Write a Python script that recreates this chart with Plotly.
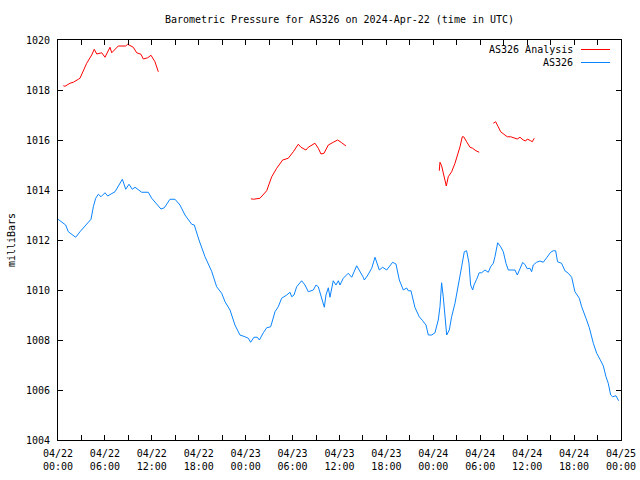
import pandas as pd
import plotly.graph_objects as go

BASE = pd.Timestamp("2024-04-22 00:00")

# Hours since 2024-04-22 00:00 UTC and pressure (mb)
blue_hours = [0.00, 0.68, 0.98, 1.32, 1.75, 2.26, 2.81, 3.24, 3.67, 4.22, 4.52, 4.82, 5.16, 5.50, 6.01, 6.35,
              6.78, 7.29, 7.80, 8.23, 8.66, 9.08, 9.50, 9.85, 10.70, 11.55, 11.98, 12.40, 13.17, 13.60, 14.32,
              14.96, 15.60, 16.24, 17.10, 17.43, 18.03, 18.80, 19.65, 20.29, 20.93, 21.36, 22.00, 22.63, 23.27,
              23.91, 24.34, 24.64, 25.06, 25.49, 25.75, 26.26, 26.69, 27.20, 27.75, 28.17, 28.60, 29.25, 29.67,
              29.89, 30.18, 30.52, 31.16, 31.59, 32.01, 32.65, 33.00, 33.29, 33.72, 34.06, 34.27, 34.57, 34.78,
              35.20, 35.55, 35.85, 36.06, 36.48, 37.12, 37.56, 38.20, 38.53, 39.04, 39.17, 39.55, 40.12, 40.54,
              41.09, 41.52, 42.03, 42.80, 43.22, 43.65, 44.16, 44.59, 44.80, 45.14, 45.65, 46.20, 46.64, 47.06,
              47.36, 47.79, 48.21, 48.63, 48.85, 49.06, 49.27, 49.49, 49.71, 50.04, 50.34, 50.77, 51.19, 51.62,
              51.96, 52.26, 52.56, 52.77, 53.03, 53.20, 53.54, 53.87, 54.18, 54.60, 55.03, 55.33, 55.67, 55.88,
              56.23, 56.61, 56.95, 57.29, 57.59, 58.44, 58.74, 59.08, 59.42, 59.72, 60.01, 60.36, 60.57, 60.78,
              61.21, 61.64, 62.06, 62.49, 63.00, 63.34, 63.64, 63.89, 64.40, 64.83, 65.26, 65.69, 66.11, 66.67,
              66.97, 67.52, 67.95, 68.46, 68.89, 69.31, 69.74, 70.08, 70.37, 70.68, 70.93, 71.36, 71.70]
blue_values = [1012.83, 1012.67, 1012.60, 1012.33, 1012.24, 1012.11, 1012.33, 1012.49, 1012.67, 1012.83, 1013.33,
               1013.67, 1013.83, 1013.73, 1013.89, 1013.76, 1013.84, 1013.93, 1014.20, 1014.43, 1014.03, 1014.23,
               1014.03, 1014.11, 1013.91, 1013.91, 1013.67, 1013.53, 1013.24, 1013.29, 1013.63, 1013.63, 1013.40,
               1013.00, 1012.63, 1012.60, 1012.00, 1011.33, 1010.75, 1010.13, 1009.87, 1009.53, 1009.20, 1008.60,
               1008.20, 1008.13, 1008.07, 1007.91, 1008.11, 1008.11, 1008.00, 1008.29, 1008.49, 1008.53, 1009.13,
               1009.33, 1009.67, 1009.80, 1009.91, 1009.73, 1009.80, 1010.13, 1010.37, 1010.20, 1009.93, 1010.00,
               1010.20, 1010.13, 1009.67, 1009.31, 1009.80, 1010.09, 1009.71, 1010.37, 1010.20, 1010.37, 1010.20,
               1010.47, 1010.67, 1010.51, 1010.97, 1010.80, 1010.51, 1010.40, 1010.56, 1010.87, 1011.31, 1010.80,
               1010.91, 1010.80, 1011.11, 1011.04, 1010.40, 1010.00, 1010.08, 1009.97, 1009.97, 1009.30, 1008.93,
               1008.77, 1008.60, 1008.20, 1008.20, 1008.29, 1008.80, 1009.33, 1010.29, 1009.73, 1008.80, 1008.20,
               1008.40, 1008.93, 1009.47, 1010.13, 1010.93, 1011.53, 1011.57, 1011.07, 1010.20, 1010.00, 1010.20,
               1010.43, 1010.69, 1010.69, 1010.80, 1010.71, 1010.93, 1011.07, 1011.33, 1011.89, 1011.73, 1011.53,
               1011.07, 1010.80, 1010.80, 1010.60, 1010.88, 1011.10, 1011.02, 1010.85, 1010.87, 1010.73, 1011.00,
               1011.11, 1011.16, 1011.11, 1011.29, 1011.51, 1011.57, 1011.57, 1011.13, 1011.07, 1010.77, 1010.67,
               1010.51, 1009.93, 1009.67, 1009.33, 1008.87, 1008.49, 1007.87, 1007.47, 1007.23, 1006.96, 1006.53,
               1006.27, 1005.80, 1005.73, 1005.77, 1005.57]

red_seg1_hours = [0.68, 0.90, 1.53, 1.96, 2.60, 2.81, 3.67, 4.31, 4.64, 4.95, 5.59, 6.01, 6.65, 6.87, 7.71, 8.66,
                  8.91, 9.63, 10.06, 10.61, 10.91, 11.47, 11.89, 12.40, 12.83]
red_seg1_values = [1018.17, 1018.15, 1018.27, 1018.31, 1018.43, 1018.47, 1019.07, 1019.40, 1019.63, 1019.44,
                   1019.49, 1019.31, 1019.71, 1019.49, 1019.76, 1019.76, 1019.83, 1019.71, 1019.49, 1019.43,
                   1019.24, 1019.29, 1019.39, 1019.13, 1018.73]
red_seg2_hours = [24.68, 24.98, 25.83, 26.26, 26.69, 27.33, 27.97, 28.73, 29.45, 30.09, 30.73, 31.07, 31.71,
                  32.01, 32.86, 33.29, 33.63, 34.02, 34.57, 35.20, 35.77, 36.28, 36.83]
red_seg2_values = [1013.65, 1013.63, 1013.67, 1013.80, 1013.97, 1014.53, 1014.87, 1015.20, 1015.27, 1015.53,
                   1015.83, 1015.71, 1015.60, 1015.71, 1015.87, 1015.67, 1015.44, 1015.47, 1015.80, 1015.91,
                   1016.00, 1015.89, 1015.76]
red_seg3_hours = [48.76, 48.85, 49.06, 49.36, 49.66, 49.91, 50.34, 50.77, 51.06, 51.41, 51.70, 51.88, 52.26,
                  52.69, 53.03, 53.45, 53.87]
red_seg3_values = [1014.77, 1015.11, 1014.97, 1014.60, 1014.16, 1014.53, 1014.73, 1015.07, 1015.33, 1015.73,
                   1016.13, 1016.13, 1015.93, 1015.71, 1015.67, 1015.57, 1015.51]
red_seg4_hours = [55.67, 55.97, 56.30, 56.61, 57.03, 57.46, 57.89, 58.44, 58.74, 59.08, 59.50, 59.81, 60.01,
                  60.45, 60.65, 60.91]
red_seg4_values = [1016.67, 1016.73, 1016.53, 1016.33, 1016.23, 1016.13, 1016.13, 1016.09, 1016.04, 1016.11,
                   1016.00, 1015.96, 1016.04, 1015.97, 1015.93, 1016.07]

series_names = ["AS326 Analysis", "AS326"]
series_colors = ["#ff0000", "#0a84ff"]
title_text = "Barometric Pressure for AS326 on 2024-Apr-22 (time in UTC)"
y_title = "milliBars"


def to_time(hours):
    return list(BASE + pd.to_timedelta(hours, unit="h"))


red_x, red_y = [], []
for hs, vs in [(red_seg1_hours, red_seg1_values), (red_seg2_hours, red_seg2_values),
               (red_seg3_hours, red_seg3_values), (red_seg4_hours, red_seg4_values)]:
    red_x += to_time(hs) + [None]
    red_y += list(vs) + [None]

FONT = "DejaVu Sans Mono"

fig = go.Figure()
fig.add_trace(go.Scatter(x=red_x, y=red_y, mode="lines", name=series_names[0],
                         line=dict(color=series_colors[0], width=1), connectgaps=False))
fig.add_trace(go.Scatter(x=to_time(blue_hours), y=blue_values, mode="lines", name=series_names[1],
                         line=dict(color=series_colors[1], width=1)))

# legend drawn gnuplot-style (text, then sample line to its right)
L, R, T, B = 58, 621, 40, 440
W, H = R - L, B - T
legend_rows = [49.5, 62.5]
for name, color, py in zip(series_names, series_colors, legend_rows):
    yp = (B - py) / H
    fig.add_annotation(x=(574.5 - L) / W, y=yp, xref="paper", yref="paper", text=name,
                       showarrow=False, xanchor="right", yanchor="middle",
                       font=dict(family=FONT, size=10, color="black"))
    fig.add_shape(type="line", xref="paper", yref="paper", x0=(581 - L) / W, x1=(610 - L) / W,
                  y0=yp, y1=yp, line=dict(color=color, width=1))

fig.update_layout(
    width=640, height=480,
    margin=dict(l=L, r=640 - R, t=T, b=480 - B, autoexpand=False),
    paper_bgcolor="white", plot_bgcolor="white",
    showlegend=False,
    font=dict(family=FONT, size=10, color="black"),
    title=dict(text=title_text, x=0.5, xref="paper", xanchor="center",
               y=1 - 19 / 480, yref="container", yanchor="middle",
               font=dict(family=FONT, size=10, color="black")),
    xaxis=dict(range=[BASE, BASE + pd.Timedelta(hours=72)], type="date", automargin=False,
               tickformat="%m/%d<br>%H:%M", dtick=6 * 3600000, tick0=BASE,
               ticks="inside", ticklen=5, tickcolor="black",
               minor=dict(dtick=3 * 3600000, ticks="inside", ticklen=5, tickcolor="black"),
               showline=True, linecolor="black", linewidth=1, mirror="ticks",
               showgrid=False, zeroline=False, tickfont=dict(family=FONT, size=10),
               ticklabelstandoff=4),
    yaxis=dict(range=[1004, 1020], dtick=2, tick0=1004, automargin=False,
               ticks="inside", ticklen=5, tickcolor="black",
               showline=True, linecolor="black", linewidth=1, mirror="ticks",
               showgrid=False, zeroline=False, tickfont=dict(family=FONT, size=10),
               ticklabelstandoff=5,
               title=dict(text=y_title, standoff=8, font=dict(family=FONT, size=10))),
)

fig.write_html("out.html")
